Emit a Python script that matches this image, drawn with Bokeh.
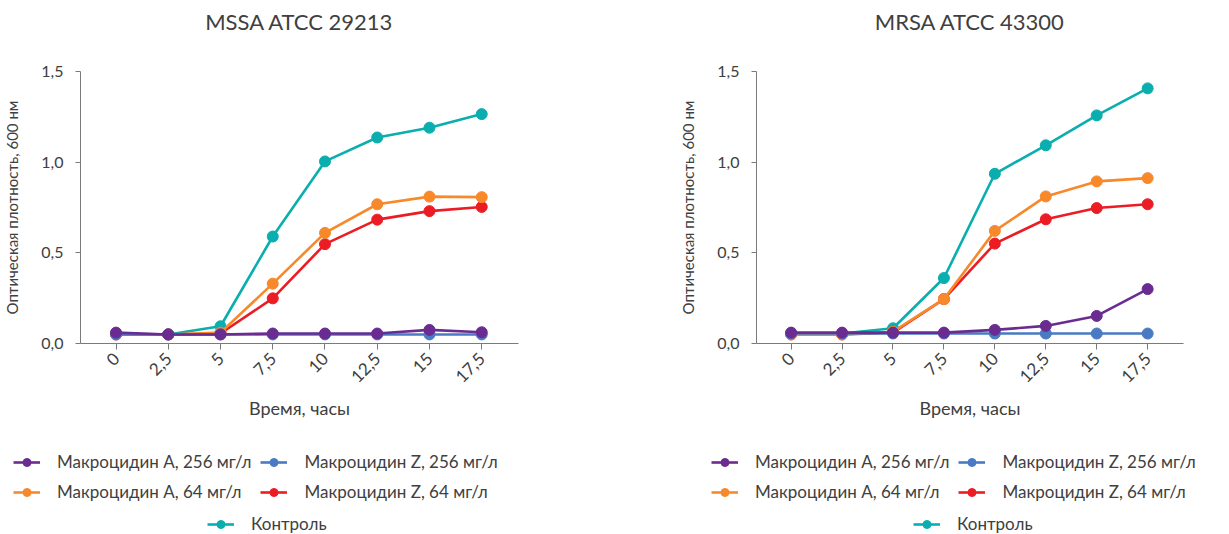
import math
from bokeh.plotting import figure
from bokeh.models import FixedTicker, Legend, LegendItem, Range1d, Title
from bokeh.layouts import row, column
from bokeh.embed import file_html
from bokeh.resources import INLINE

hours = [0, 2.5, 5, 7.5, 10, 12.5, 15, 17.5]
x_tick_labels = ["0", "2,5", "5", "7,5", "10", "12,5", "15", "17,5"]
y_ticks = [0, 0.5, 1, 1.5]
y_tick_labels = ["0,0", "0,5", "1,0", "1,5"]

name_a256 = "Макроцидин A, 256 мг/л"
name_z256 = "Макроцидин Z, 256 мг/л"
name_a64 = "Макроцидин A, 64 мг/л"
name_z64 = "Макроцидин Z, 64 мг/л"
name_ctrl = "Контроль"

mssa_a256 = [0.06, 0.05, 0.05, 0.055, 0.055, 0.055, 0.075, 0.062]
mssa_z256 = [0.05, 0.05, 0.05, 0.05, 0.05, 0.05, 0.05, 0.05]
mssa_a64 = [0.05, 0.05, 0.06, 0.33, 0.61, 0.768, 0.81, 0.807]
mssa_z64 = [0.05, 0.05, 0.055, 0.249, 0.548, 0.683, 0.73, 0.753]
mssa_ctrl = [0.055, 0.05, 0.095, 0.59, 1.004, 1.136, 1.19, 1.265]

mrsa_a256 = [0.06, 0.06, 0.06, 0.06, 0.075, 0.097, 0.152, 0.30]
mrsa_z256 = [0.055, 0.055, 0.055, 0.055, 0.055, 0.055, 0.055, 0.055]
mrsa_a64 = [0.05, 0.05, 0.065, 0.245, 0.621, 0.811, 0.894, 0.912]
mrsa_z64 = [0.05, 0.05, 0.06, 0.245, 0.551, 0.685, 0.747, 0.768]
mrsa_ctrl = [0.055, 0.055, 0.084, 0.361, 0.936, 1.093, 1.258, 1.407]

C_A256 = "#6a2c91"
C_Z256 = "#4a7ac4"
C_A64 = "#f7892b"
C_Z64 = "#ec1c24"
C_CTRL = "#0aaeae"

FONT = "Lato"
TXT = "#404040"
AX = "#7a7a7a"

MAIN_H = 440
LEG_H = 94


def add_series(p, a256, z256, a64, z64, ctrl, visible=True):
    rends = {}
    for key, vals, col in (("ctrl", ctrl, C_CTRL), ("z64", z64, C_Z64), ("a64", a64, C_A64),
                           ("z256", z256, C_Z256), ("a256", a256, C_A256)):
        ln = p.line(hours, vals, line_color=col, line_width=2.6, visible=visible)
        sc = p.scatter(hours, vals, size=11, fill_color=col, line_color=col, visible=visible)
        rends[key] = [ln, sc]
    return rends


def make_panel(title, a256, z256, a64, z64, ctrl, width, left, fwidth):
    right = width - left - fwidth
    p = figure(width=width, height=MAIN_H, output_backend="svg", toolbar_location=None,
               x_range=Range1d(-1.7, 19.26), y_range=Range1d(0, 1.5),
               min_border_left=left, min_border_right=right,
               min_border_top=71, min_border_bottom=MAIN_H - 343)
    p.outline_line_color = None
    p.grid.grid_line_color = None
    p.title.text = title
    p.title.align = "center"
    p.title.text_font = FONT
    p.title.text_font_size = "22px"
    p.title.text_font_style = "normal"
    p.title.text_color = TXT
    p.add_layout(Title(text=" ", text_font_size="18px"), "above")

    xa = p.xaxis[0]
    ya = p.yaxis[0]
    xa.ticker = FixedTicker(ticks=hours)
    xa.major_label_overrides = {h: t for h, t in zip(hours, x_tick_labels)}
    ya.ticker = FixedTicker(ticks=y_ticks)
    ya.major_label_overrides = {v: t for v, t in zip(y_ticks, y_tick_labels)}
    xa.major_label_orientation = math.pi / 4
    xa.axis_label = "Время, часы"
    ya.axis_label = "Оптическая плотность, 600 нм"
    for ax in (xa, ya):
        ax.axis_line_color = AX
        ax.major_tick_line_color = AX
        ax.minor_tick_line_color = None
        ax.major_tick_in = 0
        ax.major_label_text_font = FONT
        ax.major_label_text_color = TXT
        ax.axis_label_text_font = FONT
        ax.axis_label_text_font_style = "normal"
        ax.axis_label_text_color = TXT
    xa.major_label_text_font_size = "17px"
    ya.major_label_text_font_size = "16px"
    xa.major_tick_out = 6
    ya.major_tick_out = 5
    xa.axis_label_text_font_size = "18px"
    ya.axis_label_text_font_size = "15px"
    xa.major_label_standoff = 6
    ya.major_label_standoff = 12
    xa.axis_label_standoff = 6
    ya.axis_label_standoff = 17

    add_series(p, a256, z256, a64, z64, ctrl)
    return p


def make_legend(a256, z256, a64, z64, ctrl, width, leg1_x, leg2_x):
    q = figure(width=width, height=LEG_H, output_backend="svg", toolbar_location=None,
               x_axis_type=None, y_axis_type=None,
               x_range=Range1d(0, 1), y_range=Range1d(0, 1),
               min_border_left=0, min_border_right=0, min_border_top=0, min_border_bottom=0)
    q.outline_line_color = None
    q.grid.grid_line_color = None
    rends = add_series(q, a256, z256, a64, z64, ctrl, visible=False)
    leg_style = dict(border_line_color=None, background_fill_alpha=0, padding=0, margin=0,
                     spacing=9, label_standoff=17, glyph_width=27, glyph_height=20,
                     label_height=20, label_text_font=FONT, label_text_font_size="17px",
                     label_text_color=TXT, inactive_fill_alpha=0)
    leg1 = Legend(items=[LegendItem(label=name_a256, renderers=rends["a256"]),
                         LegendItem(label=name_a64, renderers=rends["a64"]),
                         LegendItem(label=name_z256, renderers=rends["z256"]),
                         LegendItem(label=name_z64, renderers=rends["z64"])],
                  ncols=2, location=(leg1_x, 32), **leg_style)
    leg2 = Legend(items=[LegendItem(label=name_ctrl, renderers=rends["ctrl"])],
                  location=(leg2_x, 0), **leg_style)
    q.add_layout(leg1)
    q.add_layout(leg2)
    return q


p1 = make_panel("MSSA ATCC 29213", mssa_a256, mssa_z256, mssa_a64, mssa_z64, mssa_ctrl,
                640, 77, 441)
p2 = make_panel("MRSA ATCC 43300", mrsa_a256, mrsa_z256, mrsa_a64, mrsa_z64, mrsa_ctrl,
                589, 116, 427)
l1 = make_legend(mssa_a256, mssa_z256, mssa_a64, mssa_z64, mssa_ctrl, 640, 13, 207)
l2 = make_legend(mrsa_a256, mrsa_z256, mrsa_a64, mrsa_z64, mrsa_ctrl, 589, 71, 273)

layout = column(row(p1, p2), row(l1, l2))
open("out.html", "w").write(file_html(layout, INLINE))
